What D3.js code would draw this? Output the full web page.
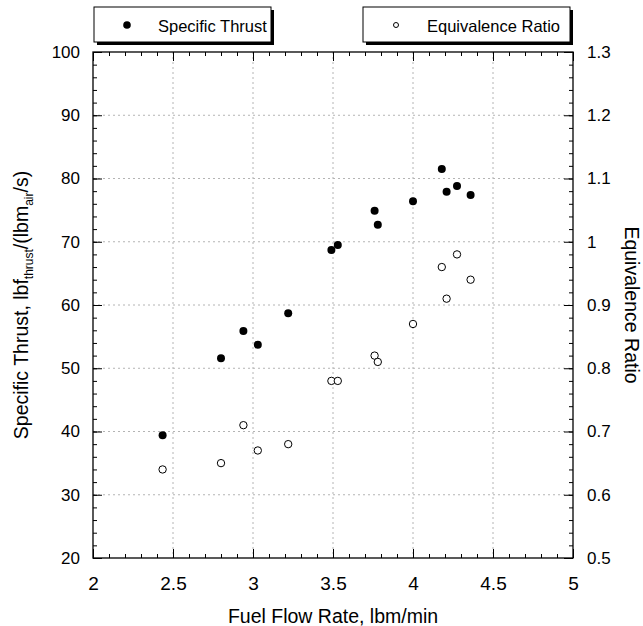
<!DOCTYPE html>
<html>
<head>
<meta charset="utf-8">
<script src="https://cdn.jsdelivr.net/npm/d3@7"></script>
<style>
    body { margin: 0; background: #fff; }
    svg text { font-family: "Liberation Sans", Arial, Helvetica, sans-serif; fill: #000; }
    .grid line { stroke: #b4b4b4; stroke-width: 1; stroke-dasharray: 2,3; }
    .axis line { stroke: #000; stroke-width: 1; }
    .axis path { display: none; }
</style>
</head>
<body>
<div id="chart"></div>
<script>
// values
const fuelFlow = [2.435, 2.80, 2.94, 3.03, 3.22, 3.49, 3.53, 3.76, 3.78, 4.00, 4.18, 4.21, 4.275, 4.36];
const specificThrust = [39.4, 51.6, 55.9, 53.7, 58.7, 68.7, 69.5, 74.9, 72.7, 76.4, 81.5, 77.9, 78.8, 77.4];
const equivRatio = [0.64, 0.65, 0.71, 0.67, 0.68, 0.78, 0.78, 0.82, 0.81, 0.87, 0.96, 0.91, 0.98, 0.94];

const xTicks = [2, 2.5, 3, 3.5, 4, 4.5, 5];
const yLeftTicks = [20, 30, 40, 50, 60, 70, 80, 90, 100];
const yRightTicks = [0.5, 0.6, 0.7, 0.8, 0.9, 1.0, 1.1, 1.2, 1.3];
const legendLabels = ['Specific Thrust', 'Equivalence Ratio'];

const width = 643;
const height = 626;
const margin = { top: 52, right: 70, bottom: 68, left: 93 };

const svg = d3.select('#chart').append('svg')
    .attr('width', width)
    .attr('height', height);

const x = d3.scaleLinear().domain([2, 5]).range([margin.left, width - margin.right]);
const yL = d3.scaleLinear().domain([20, 100]).range([height - margin.bottom, margin.top]);
const yR = d3.scaleLinear().domain([0.5, 1.3]).range([height - margin.bottom, margin.top]);

const x0 = x.range()[0], x1 = x.range()[1];
const yBot = yL.range()[0], yTop = yL.range()[1];

// dotted grid on the inner major ticks
const grid = svg.append('g').attr('class', 'grid');
grid.selectAll('line.v')
    .data(xTicks.slice(1, -1))
    .join('line')
    .attr('x1', d => x(d)).attr('x2', d => x(d))
    .attr('y1', yTop).attr('y2', yBot);
grid.selectAll('line.h')
    .data(yLeftTicks.slice(1, -1))
    .join('line')
    .attr('x1', x0).attr('x2', x1)
    .attr('y1', d => yL(d)).attr('y2', d => yL(d));

// minor ticks (inward, no labels)
const minorX = d3.range(20, 51).map(d => d / 10);
const minorY = d3.range(20, 101, 2);

svg.append('g').attr('class', 'axis')
    .attr('transform', `translate(0,${yBot})`)
    .call(d3.axisBottom(x).tickValues(minorX).tickSize(-4).tickFormat(''));
svg.append('g').attr('class', 'axis')
    .attr('transform', `translate(0,${yTop})`)
    .call(d3.axisTop(x).tickValues(minorX).tickSize(-4).tickFormat(''));
svg.append('g').attr('class', 'axis')
    .attr('transform', `translate(${x0},0)`)
    .call(d3.axisLeft(yL).tickValues(minorY).tickSize(-4).tickFormat(''));
svg.append('g').attr('class', 'axis')
    .attr('transform', `translate(${x1},0)`)
    .call(d3.axisRight(yL).tickValues(minorY).tickSize(-4).tickFormat(''));

// major ticks with labels
const xAxis = svg.append('g').attr('class', 'axis')
    .attr('transform', `translate(0,${yBot})`)
    .call(d3.axisBottom(x).tickValues(xTicks).tickSize(-9).tickPadding(19).tickFormat(d3.format('')));
xAxis.selectAll('text').style('font-size', '19px');

svg.append('g').attr('class', 'axis')
    .attr('transform', `translate(0,${yTop})`)
    .call(d3.axisTop(x).tickValues(xTicks).tickSize(-9).tickFormat(''));

const yAxisL = svg.append('g').attr('class', 'axis')
    .attr('transform', `translate(${x0},0)`)
    .call(d3.axisLeft(yL).tickValues(yLeftTicks).tickSize(-9).tickPadding(13).tickFormat(d3.format('')));
yAxisL.selectAll('text').style('font-size', '17px');

const yAxisR = svg.append('g').attr('class', 'axis')
    .attr('transform', `translate(${x1},0)`)
    .call(d3.axisRight(yR).tickValues(yRightTicks).tickSize(-9).tickPadding(14).tickFormat(d3.format('')));
yAxisR.selectAll('text').style('font-size', '17px');

// plot frame
svg.append('rect')
    .attr('x', x0).attr('y', yTop)
    .attr('width', x1 - x0).attr('height', yBot - yTop)
    .attr('fill', 'none')
    .attr('stroke', '#000')
    .attr('stroke-width', 1.3);

// axis titles
svg.append('text')
    .attr('x', (x0 + x1) / 2)
    .attr('y', 623)
    .attr('text-anchor', 'middle')
    .style('font-size', '19.5px')
    .text('Fuel Flow Rate, lbm/min');

const yTitle = svg.append('text')
    .attr('transform', `translate(28,${(yTop + yBot) / 2}) rotate(-90)`)
    .attr('text-anchor', 'middle')
    .style('font-size', '19.5px');
yTitle.append('tspan').text('Specific Thrust, lbf');
yTitle.append('tspan').attr('dy', 5).style('font-size', '12px').text('thrust');
yTitle.append('tspan').attr('dy', -5).text('/(lbm');
yTitle.append('tspan').attr('dy', 5).style('font-size', '12px').text('air');
yTitle.append('tspan').attr('dy', -5).text('/s)');

svg.append('text')
    .attr('transform', `translate(625,${(yTop + yBot) / 2}) rotate(90)`)
    .attr('text-anchor', 'middle')
    .style('font-size', '19.5px')
    .text('Equivalence Ratio');

// data points
const points = fuelFlow.map((f, i) => ({ f, st: specificThrust[i], er: equivRatio[i] }));

svg.append('g').selectAll('circle')
    .data(points)
    .join('circle')
    .attr('cx', d => x(d.f))
    .attr('cy', d => yR(d.er))
    .attr('r', 3.7)
    .attr('fill', '#fff')
    .attr('stroke', '#000')
    .attr('stroke-width', 1);

svg.append('g').selectAll('circle')
    .data(points)
    .join('circle')
    .attr('cx', d => x(d.f))
    .attr('cy', d => yL(d.st))
    .attr('r', 4)
    .attr('fill', '#000');

// legend boxes with drop shadow
const legendBoxes = [
    { label: legendLabels[0], x: 94, w: 177, filled: true },
    { label: legendLabels[1], x: 363, w: 207, filled: false }
];

const leg = svg.append('g').selectAll('g')
    .data(legendBoxes)
    .join('g')
    .attr('transform', d => `translate(${d.x},7)`);

leg.append('rect')
    .attr('x', 3).attr('y', 3)
    .attr('width', d => d.w).attr('height', 35)
    .attr('fill', '#000');
leg.append('rect')
    .attr('width', d => d.w).attr('height', 35)
    .attr('fill', '#fff')
    .attr('stroke', '#000')
    .attr('stroke-width', 1);
leg.append('circle')
    .attr('cx', 33).attr('cy', 18)
    .attr('r', d => d.filled ? 3.8 : 2.5)
    .attr('fill', d => d.filled ? '#000' : '#fff')
    .attr('stroke', '#000')
    .attr('stroke-width', d => d.filled ? 0 : 1);
leg.append('text')
    .attr('x', 64).attr('y', 24.5)
    .style('font-size', '16.5px')
    .text(d => d.label);
</script>
</body>
</html>
